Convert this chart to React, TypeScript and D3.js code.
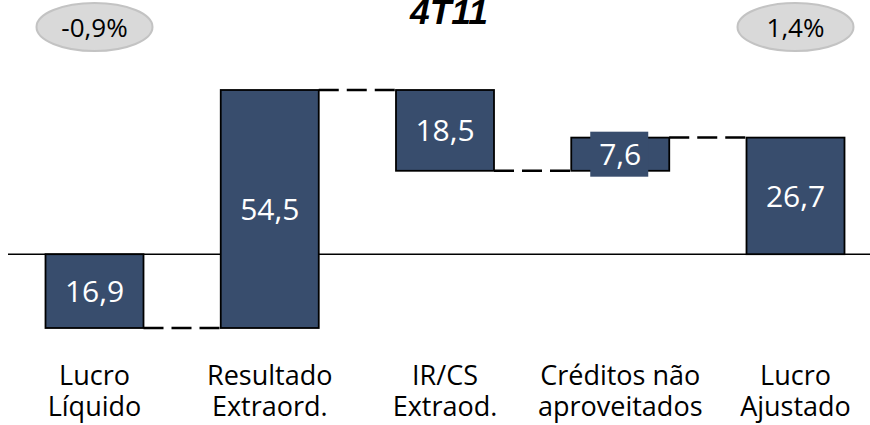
import * as d3 from "d3";

// waterfall steps (R$ mi), signed change of each step
const categories = ["Lucro Líquido", "Resultado Extraord.", "IR/CS Extraod.", "Créditos não aproveitados", "Lucro Ajustado"];
const labelLines = [["Lucro", "Líquido"], ["Resultado", "Extraord."], ["IR/CS", "Extraod."], ["Créditos não", "aproveitados"], ["Lucro", "Ajustado"]];
const deltas = [-16.9, 54.5, -18.5, 7.6, 26.7];
const isTotal = [false, false, false, false, true];
const valueLabels = ["16,9", "54,5", "18,5", "7,6", "26,7"];
const bubbles = [{ text: "-0,9%", at: "Lucro Líquido" }, { text: "1,4%", at: "Lucro Ajustado" }];
const title = "4T11";

const W = 870;
const H = 425;
const BAR_W = 98;
const FILL = "#384d6d";
const FONT = "'Open Sans', sans-serif";

interface Step {
    cat: string;
    start: number;
    end: number;
    label: string;
    lines: string[];
}

function buildSteps(): Step[] {
    let run = 0;
    return categories.map((cat, i) => {
        const start = isTotal[i] ? 0 : run;
        const end = isTotal[i] ? deltas[i] : run + deltas[i];
        run = end;
        return { cat, start, end, label: valueLabels[i], lines: labelLines[i] };
    });
}

export default function App() {
    const steps = buildSteps();
    const lo = d3.min(steps, (s) => Math.min(s.start, s.end)) as number;
    const hi = d3.max(steps, (s) => Math.max(s.start, s.end)) as number;

    const x = d3.scalePoint<string>().domain(categories).range([94.5, 795.5]);
    const y = d3.scaleLinear().domain([lo, hi]).range([328, 90]);

    const cx = (c: string) => x(c) as number;

    return (
        <svg width={W} height={H} style={{ position: "absolute", left: 0, top: 0, fontFamily: FONT }}>
            <rect width={W} height={H} fill="#fff" />
            {/* title is clipped at the top edge in the source too */}
            <text
                x={449}
                y={24}
                textAnchor="middle"
                fontSize={35}
                fontWeight="bold"
                fontStyle="italic"
                fontFamily="'Liberation Sans', Arial, sans-serif"
                textLength={78}
                lengthAdjust="spacingAndGlyphs"
                fill="#000"
            >
                {title}
            </text>

            {bubbles.map((b) => (
                <g key={b.text} transform={`translate(${cx(b.at)},27)`}>
                    <ellipse rx={58} ry={24} fill="#d9d9d9" stroke="#c3c3c3" strokeWidth={2} />
                    <text y={10} textAnchor="middle" fontSize={26} fill="#000">
                        {b.text}
                    </text>
                </g>
            ))}

            {/* zero line */}
            <line x1={8} x2={W} y1={y(0)} y2={y(0)} stroke="#000" strokeWidth={1.5} />

            {/* dashed connectors between consecutive bars */}
            {steps.slice(0, -1).map((s, i) => (
                <line
                    key={"c" + i}
                    x1={cx(s.cat) + BAR_W / 2}
                    x2={cx(steps[i + 1].cat) - BAR_W / 2}
                    y1={y(s.end)}
                    y2={y(s.end)}
                    stroke="#000"
                    strokeWidth={2.5}
                    strokeDasharray="20,8"
                />
            ))}

            {steps.map((s) => {
                const top = y(Math.max(s.start, s.end));
                const bot = y(Math.min(s.start, s.end));
                const mid = (top + bot) / 2;
                const small = bot - top < 40;
                return (
                    <g key={s.cat}>
                        <rect x={cx(s.cat) - BAR_W / 2} y={top} width={BAR_W} height={bot - top} fill={FILL} stroke="#000" strokeWidth={1.8} />
                        {small && <rect x={cx(s.cat) - 30} y={mid - 22.5} width={58} height={45} fill={FILL} />}
                        <text x={cx(s.cat)} y={mid + 11} textAnchor="middle" fontSize={30} fill="#fff">
                            {s.label}
                        </text>
                        {s.lines.map((l, j) => (
                            <text key={j} x={cx(s.cat)} y={385 + j * 31} textAnchor="middle" fontSize={27} fill="#000">
                                {l}
                            </text>
                        ))}
                    </g>
                );
            })}
        </svg>
    );
}
